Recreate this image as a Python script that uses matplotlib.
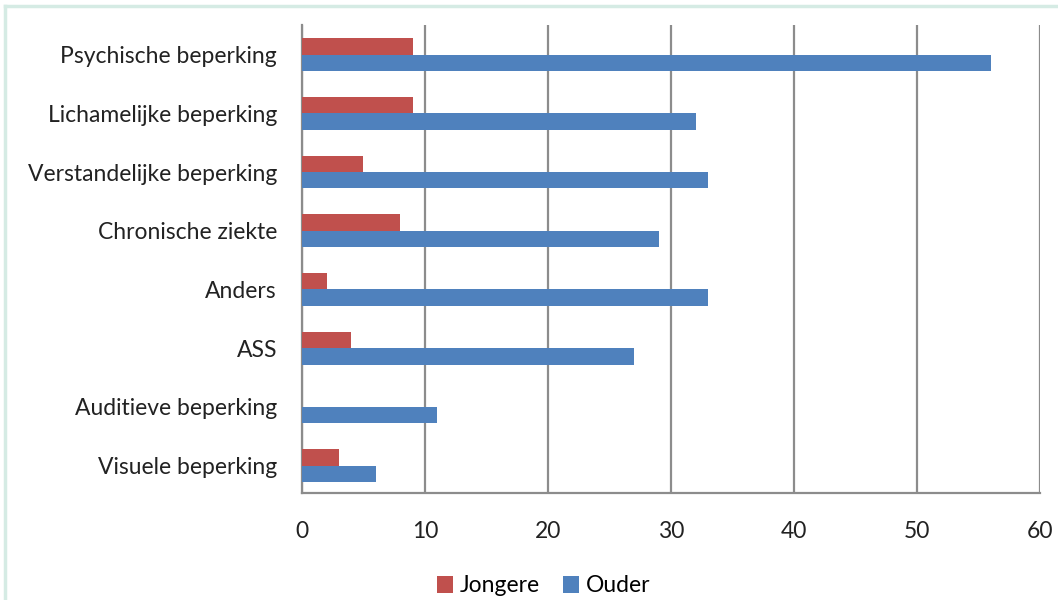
import matplotlib.pyplot as plt
import numpy as np
from matplotlib.lines import Line2D

# categorieen van boven naar beneden
categorieen = ['Psychische beperking', 'Lichamelijke beperking', 'Verstandelijke beperking',
               'Chronische ziekte', 'Anders', 'ASS', 'Auditieve beperking', 'Visuele beperking']
jongere = [9, 9, 5, 8, 2, 4, 0, 3]
ouder = [56, 32, 33, 29, 33, 27, 11, 6]

plt.rcParams['font.family'] = ['Lato', 'DejaVu Sans']

fig = plt.figure(figsize=(10.58, 6.0), dpi=100)
ax = fig.add_axes([0.2854, 0.178, 0.6976, 0.780])

n = len(categorieen)
y = np.arange(n)[::-1]  # eerste categorie bovenaan
h = 0.28
ax.barh(y + h / 2, jongere, height=h, color='#C0504D', label='Jongere', zorder=3)
ax.barh(y - h / 2, ouder, height=h, color='#4F81BD', label='Ouder', zorder=3)

ax.set_xlim(0, 60)
ax.set_ylim(-0.47, n - 0.5)
ax.set_xticks(range(0, 61, 10))
ax.set_yticks(y)
ax.set_yticklabels(categorieen, fontsize=16.5, color='#222222')
ax.tick_params(axis='x', labelsize=16.5, colors='#222222', length=0, pad=20)
ax.tick_params(axis='y', length=0, pad=18)
ax.xaxis.grid(True, color='#8c8c8c', linewidth=1.6, zorder=0)
for s in ['top', 'right']:
    ax.spines[s].set_visible(False)
for s in ['left', 'bottom']:
    ax.spines[s].set_color('#8c8c8c')
    ax.spines[s].set_linewidth(1.6)

fig.legend(loc='center', bbox_to_anchor=(544 / 1058, 1 - 586 / 600), ncol=2, frameon=False,
           fontsize=16.5, handlelength=0.7, handleheight=0.7, handletextpad=0.3, columnspacing=1.0)

# lichte rand links en boven
fig.add_artist(Line2D([0.005, 0.005], [0, 0.99], transform=fig.transFigure, color='#d5ebe4', linewidth=2.5))
fig.add_artist(Line2D([0.005, 1.0], [0.99, 0.99], transform=fig.transFigure, color='#d5ebe4', linewidth=2.5))

plt.savefig('out.png', dpi=100)
